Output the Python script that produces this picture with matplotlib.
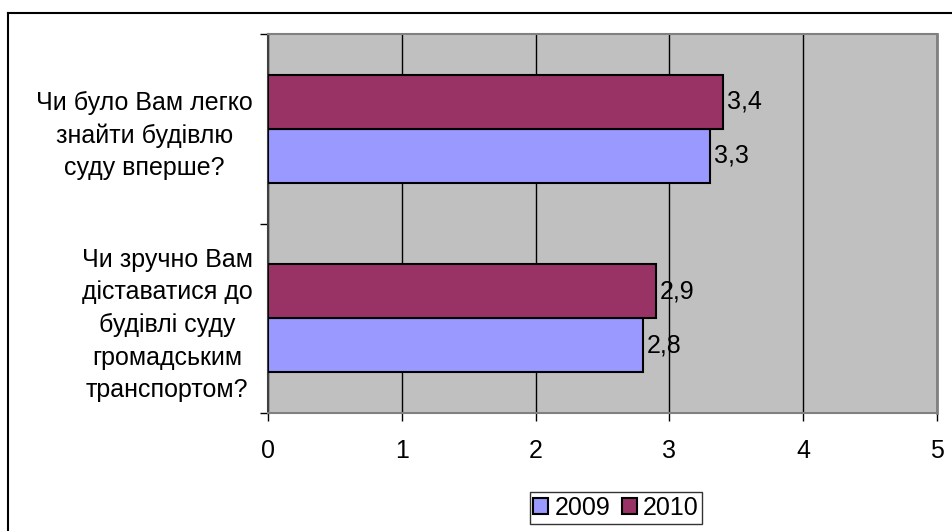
import matplotlib.pyplot as plt
import numpy as np
from matplotlib.lines import Line2D

plt.rcParams['font.family'] = ['Liberation Sans', 'DejaVu Sans']

# Дані
categories = ["Чи зручно Вам\nдіставатися до\nбудівлі суду\nгромадським\nтранспортом?",
              "Чи було Вам легко\nзнайти будівлю\nсуду вперше?"]
values_2009 = [2.8, 3.3]
values_2010 = [2.9, 3.4]
series_names = ["2009", "2010"]
colors = ["#9999FF", "#993366"]

fs = 18

fig = plt.figure(figsize=(9.53, 5.31), dpi=100)
ax = fig.add_axes([268 / 953, 1 - 413 / 531, (937 - 268) / 953, (413 - 34) / 531])
ax.set_facecolor("#C0C0C0")

y = np.arange(len(categories))
h = 0.285
b1 = ax.barh(y - h / 2, values_2009, height=h, color=colors[0], edgecolor="black", linewidth=1.5, zorder=3)
b2 = ax.barh(y + h / 2, values_2010, height=h, color=colors[1], edgecolor="black", linewidth=1.5, zorder=3)

for bars, vals in [(b1, values_2009), (b2, values_2010)]:
    for rect, v in zip(bars, vals):
        ax.annotate(f"{v:.1f}".replace(".", ","),
                    (v, rect.get_y() + rect.get_height() / 2),
                    xytext=(3, 0), textcoords="offset points",
                    va="center", ha="left", fontsize=fs)

ax.set_xlim(0, 5)
ax.set_ylim(-0.5, 1.5)
ax.set_xticks(range(6))
ax.tick_params(axis="x", labelsize=fs, length=6, width=1, direction="out", pad=13)
ax.grid(axis="x", color="black", linewidth=1, zorder=1)

ax.set_yticks(y)
ax.set_yticklabels(categories, fontsize=fs, multialignment="center", linespacing=1.45)
ax.tick_params(axis="y", which="major", length=0, pad=11)
ax.set_yticks([-0.5, 0.5, 1.5], minor=True)
ax.tick_params(axis="y", which="minor", length=6, width=1, direction="out")

for s in ["top", "bottom"]:
    ax.spines[s].set_color("#808080")
    ax.spines[s].set_linewidth(1.5)
ax.spines["left"].set_color("#404040")
ax.spines["right"].set_color("#808080")
ax.spines["left"].set_linewidth(1.5)
ax.spines["right"].set_linewidth(2)

# рамка діаграми
fig.add_artist(Line2D([8 / 953, 1], [1 - 13 / 531, 1 - 13 / 531], color="black", linewidth=1.5))
fig.add_artist(Line2D([8 / 953, 8 / 953], [0, 1 - 13 / 531], color="black", linewidth=1.5))

leg = fig.legend([b1, b2], series_names, loc="center", bbox_to_anchor=(616 / 953, 1 - 508 / 531),
                 ncol=2, fontsize=fs, frameon=True, fancybox=False, edgecolor="black",
                 handlelength=0.6, handleheight=0.6, handletextpad=0.25, columnspacing=0.45,
                 borderpad=0.15, borderaxespad=0)
leg.get_frame().set_linewidth(1)

fig.savefig("out.png", dpi=100)
